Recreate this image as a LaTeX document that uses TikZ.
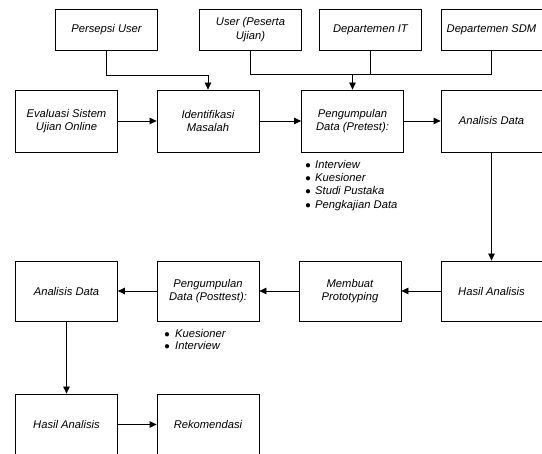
\documentclass[tikz,border=0pt]{standalone}
\usepackage{fontspec}
\setmainfont{Liberation Sans}
\usetikzlibrary{arrows.meta,calc}
\tikzset{
  box/.style={draw, line width=0.8pt, minimum width=102pt, inner sep=1pt, align=center,
    font=\fontsize{11.2}{13.5}\selectfont\itshape},
  topbox/.style={box, minimum height=41pt},
  midbox/.style={box, minimum height=62pt},
  lowbox/.style={box, minimum height=60pt},
  ln/.style={line width=0.8pt},
  arr/.style={line width=0.8pt, -{Triangle[length=7pt,width=6.5pt]}},
  lst/.style={anchor=north west, inner sep=0pt, align=left,
    font=\fontsize{11.2}{13.3}\selectfont\itshape}
}
\newcommand{\bitem}[2]{\makebox[#1][l]{\hspace{-0.6pt}$\bullet$}#2}
\begin{document}
\begin{tikzpicture}[x=1pt,y=-1pt]
\useasboundingbox (0,0) rectangle (542,454);
% top row
\node[topbox] (pu)  at (106.5,29.5) {Persepsi User};
\node[topbox] (up)  at (250.5,29.5) {User (Peserta\\Ujian)};
\node[topbox] (it)  at (370.5,29.5) {Departemen IT};
\node[topbox, minimum width=101pt] (sdm) at (491.5,29.5) {Departemen SDM};
% main row
\node[midbox] (ev) at (66.5,121) {Evaluasi Sistem\\Ujian Online};
\node[midbox] (im) at (208,121) {Identifikasi\\Masalah};
\node[midbox] (pd) at (352.5,121) {Pengumpulan\\Data (Pretest):};
\node[midbox, minimum width=101pt] (ad) at (491.5,121) {Analisis Data};
% second row
\node[lowbox] (ad2) at (66.5,291) {Analisis Data};
\node[lowbox] (pd2) at (208,291) {Pengumpulan\\Data (Posttest):};
\node[lowbox] (mp)  at (350,291) {Membuat\\Prototyping};
\node[lowbox, minimum width=101pt] (ha) at (491.5,291) {Hasil Analisis};
% third row
\node[box, minimum height=61pt] (ha2) at (66.5,424.5) {Hasil Analisis};
\node[box, minimum height=61pt] (rk)  at (208,424.5) {Rekomendasi};
% lists
\node[lst] (l1) at (305.7,160) {\bitem{9.3pt}{Interview}\\\bitem{9.3pt}{Kuesioner}\\\bitem{9.3pt}{Studi Pustaka}\\\bitem{9.3pt}{Pengkajian Data}};
\node[lst, font=\fontsize{11.2}{12.5}\selectfont\itshape] (l2) at (164.7,328.7) {\bitem{10.3pt}{Kuesioner}\\\bitem{10.3pt}{Interview}};
% connectors top
\draw[arr] (pu.south) -- ++(0,25) -| (im.north);
\coordinate (j) at ($(pd.north)+(0,-15)$);
\draw[ln] (up.south) |- (j);
\draw[ln] (sdm.south) |- (j);
\draw[ln] (it.south) |- (j);
\draw[arr] (j) -- (pd.north);
% main flow
\draw[arr] (ev) -- (im);
\draw[arr] (im) -- (pd);
\draw[arr] (pd) -- (ad);
\draw[arr] (ad) -- (ha);
\draw[arr] (ha) -- (mp);
\draw[arr] (mp) -- (pd2);
\draw[arr] (pd2) -- (ad2);
\draw[arr] (ad2) -- (ha2);
\draw[arr] (ha2) -- (rk);
\end{tikzpicture}
\end{document}
